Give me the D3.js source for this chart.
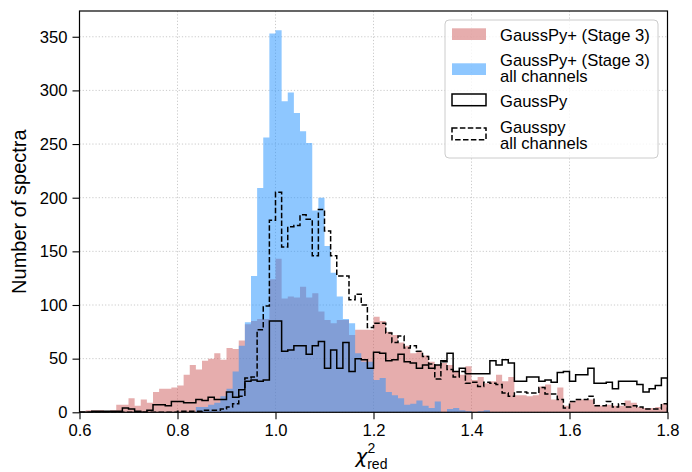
<!DOCTYPE html>
<html>
<head>
<meta charset="utf-8">
<script src="https://cdn.jsdelivr.net/npm/d3@7"></script>
<style>
  body { margin: 0; background: #fff; }
  text { font-family: "Liberation Sans", Arial, sans-serif; }
</style>
</head>
<body>
<div id="chart"></div>
<script>
// histogram bins: fixed width, first edge at binStart
var binStart = 0.6;
var binWidth = 0.0125;

// GaussPy+ (Stage 3)
var stage3 = [
  1, 2, 2, 2, 1, 2, 7, 7, 13, 6,
  12, 9, 19, 22, 22, 23, 25, 35, 44, 40,
  48, 50, 55, 49, 60, 59, 67, 82, 85, 87,
  87, 124, 143, 106, 108, 107, 117, 107, 111, 94,
  86, 83, 86, 86, 72, 77, 77, 77, 89, 85,
  75, 72, 65, 62, 55, 57, 53, 47, 44, 46,
  44, 38, 35, 43, 30, 33, 27, 29, 35, 29,
  33, 16, 16, 15, 16, 24, 26, 12, 23, 6,
  10, 12, 12, 12, 7, 6, 7, 6, 6, 11,
  9, 5, 4, 4, 5, 8
];

// GaussPy+ (Stage 3) all channels
var stage3All = [
  0, 0, 0, 0, 0, 0, 0, 0, 0, 0,
  0, 0, 0, 0, 0, 0, 0, 0, 0, 5,
  5, 7, 9, 15, 22, 38, 62, 84, 127, 209,
  256, 353, 356, 290, 298, 279, 262, 251, 188, 200,
  155, 130, 108, 87, 83, 55, 47, 47, 30, 32,
  19, 16, 13, 7, 8, 11, 6, 4, 10, 0,
  3, 4, 2, 1, 0, 1, 2, 0, 0, 0,
  0, 0, 0, 0, 0, 0, 0, 0, 0, 0,
  0, 0, 0, 0, 0, 0, 0, 0, 0, 0,
  0, 0, 0, 0, 0, 0
];

// GaussPy
var gausspy = [
  0, 0, 1, 1, 1, 1, 1, 4, 3, 1,
  0, 2, 7, 7, 6, 10, 10, 9, 9, 12,
  11, 14, 12, 12, 19, 14, 21, 29, 30, 29,
  30, 85, 85, 57, 58, 62, 62, 54, 62, 66,
  41, 58, 41, 65, 38, 50, 49, 41, 56, 55,
  48, 49, 54, 47, 46, 41, 44, 41, 44, 48,
  55, 38, 41, 36, 36, 36, 36, 48, 44, 49,
  46, 29, 29, 33, 33, 29, 30, 28, 37, 38,
  29, 35, 35, 41, 27, 27, 28, 22, 29, 29,
  29, 26, 19, 22, 25, 32
];

// Gausspy all channels
var gausspyAll = [
  0, 0, 0, 0, 0, 0, 0, 0, 0, 0,
  0, 0, 0, 0, 0, 0, 1, 1, 1, 1,
  2, 2, 2, 3, 5, 8, 15, 32, 33, 77,
  99, 179, 205, 154, 173, 174, 184, 180, 146, 189,
  169, 146, 127, 127, 105, 110, 100, 79, 83, 83,
  74, 65, 71, 60, 62, 57, 52, 45, 31, 47,
  40, 33, 38, 27, 28, 24, 28, 27, 26, 18,
  15, 19, 19, 18, 18, 23, 17, 17, 12, 4,
  10, 12, 12, 15, 6, 6, 10, 5, 8, 5,
  6, 5, 3, 3, 3, 8
];

var xTicks = [0.6, 0.8, 1.0, 1.2, 1.4, 1.6, 1.8];
var yTicks = [0, 50, 100, 150, 200, 250, 300, 350];
var xDomain = [0.6, 1.8];
var yDomain = [0, 374];

var legendItems = [
  {lines: ["GaussPy+ (Stage 3)"], kind: "fillPink"},
  {lines: ["GaussPy+ (Stage 3)", "all channels"], kind: "fillBlue"},
  {lines: ["GaussPy"], kind: "solid"},
  {lines: ["Gausspy", "all channels"], kind: "dashed"}
];

var width = 692, height = 472;
var margin = {left: 79.5, top: 11, right: 24.5, bottom: 59.7};
var pinkFill = "rgba(205,92,92,0.5)";
var blueFill = "rgba(30,144,255,0.5)";
var dash = "5.5,2.4";

var svg = d3.select("#chart").append("svg")
  .attr("width", width)
  .attr("height", height);

var x = d3.scaleLinear().domain(xDomain).range([margin.left, width - margin.right]);
var y = d3.scaleLinear().domain(yDomain).range([height - margin.bottom, margin.top]);

svg.append("defs").append("clipPath").attr("id", "plot")
  .append("rect")
  .attr("x", x(xDomain[0])).attr("y", y(yDomain[1]))
  .attr("width", x(xDomain[1]) - x(xDomain[0]))
  .attr("height", y(0) - y(yDomain[1]));

// grid
var grid = svg.append("g")
  .attr("stroke", "#c4c4c4")
  .attr("stroke-width", 0.9)
  .attr("stroke-dasharray", "1.2,2");
grid.selectAll(".gx").data(xTicks).enter().append("line")
  .attr("x1", d => x(d)).attr("x2", d => x(d))
  .attr("y1", y(0)).attr("y2", y(yDomain[1]));
grid.selectAll(".gy").data(yTicks).enter().append("line")
  .attr("x1", x(xDomain[0])).attr("x2", x(xDomain[1]))
  .attr("y1", d => y(d)).attr("y2", d => y(d));

function edge(i){ return binStart + i * binWidth; }

function stepPath(counts, closed){
  var p = d3.path();
  p.moveTo(x(edge(0)), y(0));
  counts.forEach(function(c, i){
    p.lineTo(x(edge(i)), y(c));
    p.lineTo(x(edge(i + 1)), y(c));
  });
  p.lineTo(x(edge(counts.length)), y(0));
  if(closed) p.closePath();
  return p.toString();
}

var plot = svg.append("g").attr("clip-path", "url(#plot)");

plot.append("path").attr("d", stepPath(stage3, true)).attr("fill", pinkFill);
plot.append("path").attr("d", stepPath(stage3All, true)).attr("fill", blueFill);
plot.append("path").attr("d", stepPath(gausspy, false))
  .attr("fill", "none").attr("stroke", "#000").attr("stroke-width", 1.5)
  .attr("stroke-linejoin", "miter");
plot.append("path").attr("d", stepPath(gausspyAll, false))
  .attr("fill", "none").attr("stroke", "#000").attr("stroke-width", 1.5)
  .attr("stroke-dasharray", dash);

// axes
var xAxis = svg.append("g")
  .attr("transform", "translate(0," + y(0) + ")")
  .call(d3.axisBottom(x).tickValues(xTicks).tickFormat(d3.format(".1f")).tickSize(7).tickPadding(5));
var yAxis = svg.append("g")
  .attr("transform", "translate(" + x(xDomain[0]) + ",0)")
  .call(d3.axisLeft(y).tickValues(yTicks).tickSize(7).tickPadding(5));

[xAxis, yAxis].forEach(function(a){
  a.select(".domain").remove();
  a.selectAll(".tick line").attr("stroke", "#000").attr("stroke-width", 1.1);
  a.selectAll(".tick text")
    .attr("fill", "#000")
    .style("font-size", "16.6px")
    .style("font-family", '"Liberation Sans", Arial, sans-serif');
});

// frame
svg.append("rect")
  .attr("x", x(xDomain[0])).attr("y", y(yDomain[1]))
  .attr("width", x(xDomain[1]) - x(xDomain[0]))
  .attr("height", y(0) - y(yDomain[1]))
  .attr("fill", "none").attr("stroke", "#000").attr("stroke-width", 1.2);

// axis labels
svg.append("text")
  .attr("transform", "translate(26," + ((y(0) + y(yDomain[1])) / 2) + ") rotate(-90)")
  .attr("text-anchor", "middle")
  .style("font-size", "20px")
  .text("Number of spectra");

var xl = svg.append("text")
  .attr("x", (x(xDomain[0]) + x(xDomain[1])) / 2 - 2)
  .attr("y", 463)
  .attr("text-anchor", "middle")
  .style("font-size", "20px");
xl.append("tspan").style("font-family", '"DejaVu Sans", sans-serif').style("font-style", "italic").text("χ");
xl.append("tspan").attr("dy", -10).style("font-size", "14px").text("2");
xl.append("tspan").attr("dx", -8).attr("dy", 16).style("font-size", "14px").text("red");

// legend
var lg = svg.append("g").attr("transform", "translate(445,20)");
lg.append("rect")
  .attr("width", 213).attr("height", 138).attr("rx", 4)
  .attr("fill", "rgba(255,255,255,0.8)").attr("stroke", "#cccccc").attr("stroke-width", 1);

var rowTop = [8.3, 43.3, 74, 108];
var textBase = [20.7, 46, 86.7, 113.3];
legendItems.forEach(function(item, i){
  var r = lg.append("rect")
    .attr("x", 7).attr("y", rowTop[i]).attr("width", 34).attr("height", 11.7);
  if(item.kind === "fillPink") r.attr("fill", pinkFill);
  else if(item.kind === "fillBlue") r.attr("fill", blueFill);
  else {
    r.attr("fill", "none").attr("stroke", "#000").attr("stroke-width", 1.5);
    if(item.kind === "dashed") r.attr("stroke-dasharray", dash);
  }
  // multi-line labels as one text element
  var t = lg.append("text")
    .attr("x", 55).attr("y", textBase[i])
    .style("font-size", "16.6px");
  item.lines.forEach(function(line, j){
    t.append("tspan")
      .attr("x", 55).attr("dy", j === 0 ? 0 : 15.7)
      .text(line);
  });
});
</script>
</body>
</html>
